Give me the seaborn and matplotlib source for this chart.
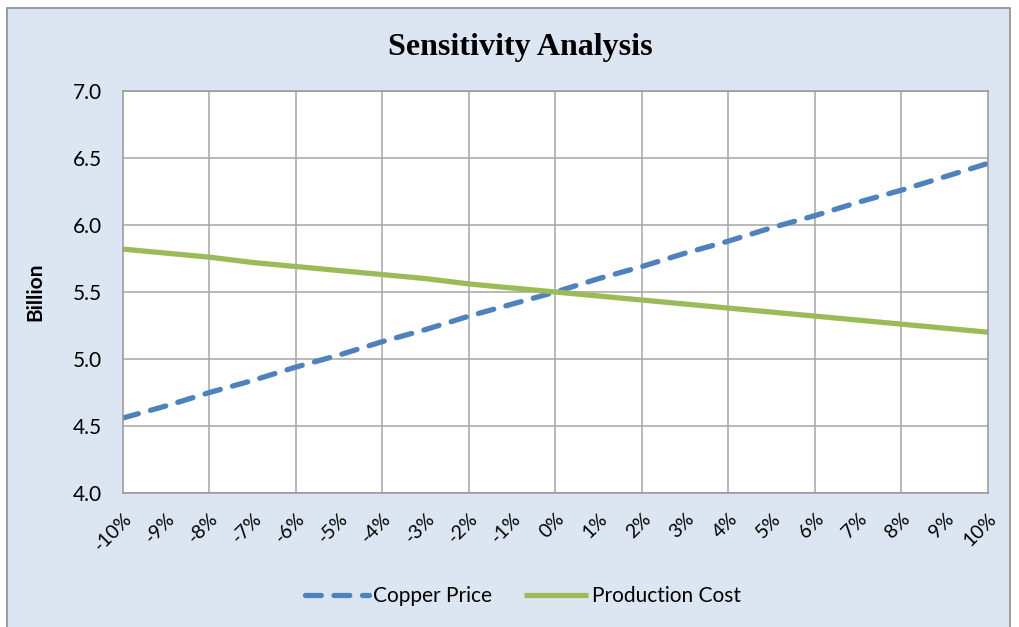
import numpy as np
import pandas as pd
import seaborn as sns
import matplotlib.pyplot as plt
from matplotlib.patches import Rectangle

# values
change_pct = list(range(-10, 11))
copper_price = [4.56, 4.65, 4.75, 4.84, 4.94, 5.03, 5.13, 5.22, 5.32, 5.41, 5.50,
                5.60, 5.69, 5.79, 5.88, 5.98, 6.07, 6.17, 6.26, 6.36, 6.46]
production_cost = [5.82, 5.79, 5.76, 5.72, 5.69, 5.66, 5.63, 5.60, 5.56, 5.53, 5.50,
                   5.47, 5.44, 5.41, 5.38, 5.35, 5.32, 5.29, 5.26, 5.23, 5.20]
tick_labels = [f"{p}%" for p in change_pct]

df = pd.DataFrame({"change": change_pct,
                   "Copper Price": copper_price,
                   "Production Cost": production_cost})
long = df.melt(id_vars="change", var_name="series", value_name="value")

sns.set_style("white")
plt.rcParams['font.family'] = ['Lato', 'DejaVu Sans']
plt.rcParams['text.color'] = 'black'

fig = plt.figure(figsize=(10.2, 6.27), dpi=100)
fig.patches.append(Rectangle((7/1020, -0.01), 1003/1020, 1 - 8/627 + 0.01,
                             transform=fig.transFigure, facecolor='#dce6f2',
                             edgecolor='#8c8c8c', linewidth=1.2, zorder=-1))

ax = fig.add_axes([123/1020, 1 - 493/627, 865/1020, 402/627])
ax.set_facecolor('white')
sns.lineplot(data=long, x="change", y="value", hue="series", style="series",
             palette={"Copper Price": "#4f81bd", "Production Cost": "#9bbb59"},
             dashes={"Copper Price": (3, 2.4), "Production Cost": ""},
             linewidth=3.8, ax=ax)
for ln in ax.get_lines():
    ln.set_solid_capstyle('butt')
    ln.set_dash_capstyle('round')

ax.set_xlim(-10, 10)
ax.set_ylim(4.0, 7.0)
ax.set_xticks(change_pct)
ax.set_xticklabels(tick_labels, rotation=45, ha='right', rotation_mode='anchor')
ax.set_yticks(np.arange(4.0, 7.01, 0.5))
ax.set_yticklabels([f"{v:.1f}" for v in np.arange(4.0, 7.01, 0.5)])
ax.tick_params(axis='both', length=0, colors='black')
ax.tick_params(axis='x', labelsize=14, pad=12)
ax.tick_params(axis='y', labelsize=15, pad=15)
# horizontal grid at every tick, vertical grid every 2%
ax.grid(True, axis='y', color='#a6a6a6', linewidth=1.1)
for xv in change_pct[2:-1:2]:
    ax.axvline(xv, color='#a6a6a6', linewidth=1.1, zorder=0.5)
ax.set_axisbelow(True)
for sp in ax.spines.values():
    sp.set_color('#969696')
    sp.set_linewidth(1.1)

ax.set_xlabel("")
ax.set_ylabel("Billion", fontsize=15, fontweight='bold', labelpad=20, color='black')
fig.text(0.51, 1 - 47/627, "Sensitivity Analysis", ha='center', va='center',
         fontsize=23, fontweight='bold', family='Liberation Serif', color='black')

handles, labels = ax.get_legend_handles_labels()
ax.legend(handles, labels, loc='center', bbox_to_anchor=(0.513, 1 - 596/627),
          bbox_transform=fig.transFigure, ncol=2, frameon=False, fontsize=15,
          handlelength=3.05, columnspacing=1.55, handletextpad=0.2)

fig.savefig("out.png", dpi=100)
